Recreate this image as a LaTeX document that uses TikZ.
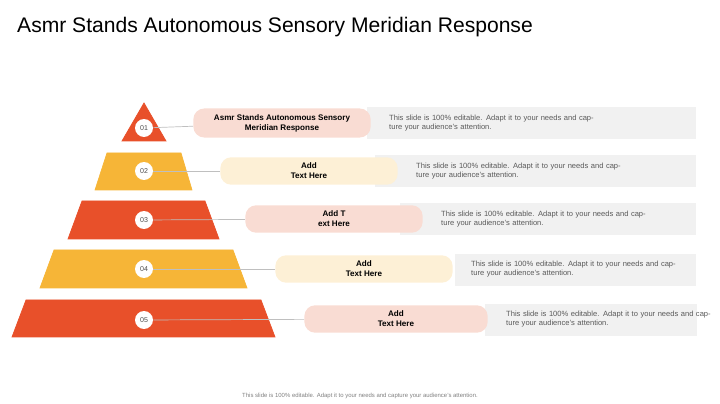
\documentclass[tikz,border=0pt]{standalone}
\usepackage{fontspec}
\setmainfont{Liberation Sans}
\usetikzlibrary{calc}
\definecolor{redorange}{HTML}{E8502A}
\definecolor{amber}{HTML}{F6B537}
\definecolor{pinkpill}{HTML}{F9DCD3}
\definecolor{creampill}{HTML}{FDF0D6}
\definecolor{graybox}{HTML}{F1F1F1}
\tikzset{
  num/.style={circle, fill=white, minimum size=18\unitpx, inner sep=0pt, font=\fontsize{4}{5}\selectfont, text=black!70},
  pill/.style={rounded corners=11\unitpx, minimum height=24\unitpx, align=center, font=\fontsize{4.6}{5.6}\selectfont\bfseries},
  desc/.style={fill=graybox, minimum height=33\unitpx, inner sep=0pt, anchor=west},
  desctext/.style={anchor=west, align=left, text width=210\unitpx, font=\fontsize{4.3}{5.3}\selectfont, text=black!65},
  link/.style={draw=black!25, line width=0.4pt}
}
\newcommand{\unitpx}{*0.567pt}
\begin{document}
\begin{tikzpicture}[x=0.02cm, y=-0.02cm]
        \useasboundingbox (0,0) rectangle (720,404);

            % Title
            \node[anchor=west, font=\fontsize{12}{14}\selectfont] (title) at (11,27) {Asmr Stands Autonomous Sensory Meridian Response};

            % Grey text panels
            \node[desc, minimum width=330\unitpx] (g1) at (367,123) {};
            \node[desc, minimum width=322\unitpx] (g2) at (375,171) {};
            \node[desc, minimum width=297\unitpx] (g3) at (400,219) {};
            \node[desc, minimum width=242\unitpx] (g4) at (455,270) {};
            \node[desc, minimum width=212\unitpx] (g5) at (485,320) {};

            % Pyramid layers
            \filldraw[redorange] (144,103) -- (166,141) -- (122,141) -- cycle;
            \filldraw[amber] (107,153) -- (181,153) -- (192,190) -- (95,190) -- cycle;
            \filldraw[redorange] (82,201) -- (205,201) -- (219,239) -- (68,239) -- cycle;
            \filldraw[amber] (54,250) -- (233,250) -- (247,288) -- (40,288) -- cycle;
            \filldraw[redorange] (26,300) -- (261,300) -- (275,337) -- (12,337) -- cycle;

            % Number circles
            \node[num] (n1) at (144,128) {01};
            \node[num] (n2) at (144,171) {02};
            \node[num] (n3) at (144,220) {03};
            \node[num] (n4) at (144,269) {04};
            \node[num] (n5) at (144,320) {05};

            % Pills
            \node[pill, fill=pinkpill, minimum width=178\unitpx] (p1) at (282,123) {Asmr Stands Autonomous Sensory\\Meridian Response};
            \node[pill, fill=creampill, minimum width=178\unitpx] (p2) at (309,171) {Add\\Text Here};
            \node[pill, fill=pinkpill, minimum width=178\unitpx] (p3) at (334,219) {Add T\\ext Here};
            \node[pill, fill=creampill, minimum width=178\unitpx] (p4) at (364,269) {Add\\Text Here};
            \node[pill, fill=pinkpill, minimum width=184\unitpx] (p5) at (396,319) {Add\\Text Here};

            % Connectors
            \draw[link] (n1) -- (p1);
            \draw[link] (n2) -- (p2);
            \draw[link] (n3) -- (p3);
            \draw[link] (n4) -- (p4);
            \draw[link] (n5) -- (p5);

            % Descriptions
            \node[desctext] (t1) at ($(p1.east)+(12,0)$) {This slide is 100\% editable. Adapt it to your needs and capture your audience's attention.};
            \node[desctext] (t2) at ($(p2.east)+(12,0)$) {This slide is 100\% editable. Adapt it to your needs and capture your audience's attention.};
            \node[desctext] (t3) at ($(p3.east)+(12,0)$) {This slide is 100\% editable. Adapt it to your needs and capture your audience's attention.};
            \node[desctext] (t4) at ($(p4.east)+(12,0)$) {This slide is 100\% editable. Adapt it to your needs and capture your audience's attention.};
            \node[desctext] (t5) at ($(p5.east)+(12,0)$) {This slide is 100\% editable. Adapt it to your needs and capture your audience's attention.};

            % Footer
            \node[font=\fontsize{3.4}{4}\selectfont, text=black!50] (foot) at (360,396) {This slide is 100\% editable. Adapt it to your needs and capture your audience's attention.};

        \end{tikzpicture}
\end{document}
